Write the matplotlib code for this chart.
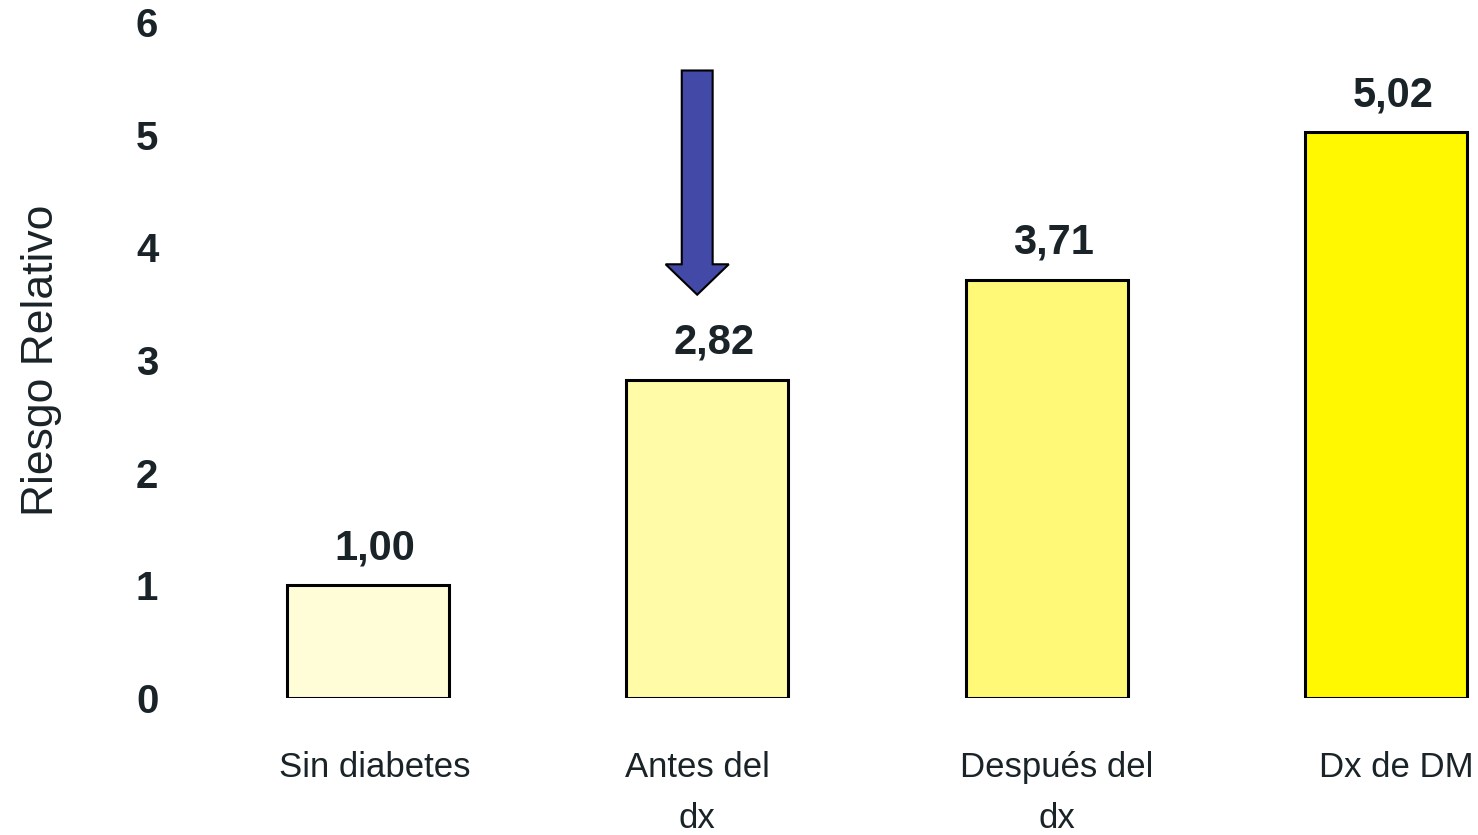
import matplotlib
matplotlib.use("Agg")
import matplotlib.pyplot as plt
from matplotlib.patches import FancyArrow
from matplotlib.transforms import ScaledTranslation

categories = ["Sin diabetes", "Antes del\ndx", "Después del\ndx", "Dx de DM"]
riesgo = [1.00, 2.82, 3.71, 5.02]
value_labels = ["1,00", "2,82", "3,71", "5,02"]
yticks = [0, 1, 2, 3, 4, 5, 6]
colors = ["#FFFDD8", "#FFFBA6", "#FFF977", "#FFF800"]

main_font = ["Liberation Sans", "DejaVu Sans"]
text_color = "#1A2428"

fig = plt.figure(figsize=(14.78, 8.35), dpi=100)
ax = fig.add_axes([0.1184, 0.164, 0.8771, 0.8096])

x = list(range(len(categories)))
ax.bar(x, riesgo, width=0.477, color=colors, edgecolor="black", linewidth=2.2, zorder=2)

for xi, v, lab in zip(x, riesgo, value_labels):
    ax.annotate(lab, (xi + 0.02, v), xytext=(0, 19), textcoords="offset points",
                ha="center", va="baseline", fontsize=30, fontweight="bold",
                family=main_font, color=text_color)

# Downward arrow pointing at the second bar
ax.add_patch(FancyArrow(0.97, 5.57, 0, -1.99, width=0.091, head_width=0.186,
                        head_length=0.27, length_includes_head=True,
                        facecolor="#4349A6", edgecolor="black", linewidth=1.5, zorder=3))

ax.set_xlim(-0.568, 3.25)
ax.set_ylim(0, 6)
ax.set_yticks(yticks)
ax.set_yticklabels([str(t) for t in yticks], fontsize=29, fontweight="bold",
                   family=main_font, color=text_color)
shift = ScaledTranslation(0, -4 / 100, fig.dpi_scale_trans)
for lbl in ax.get_yticklabels():
    lbl.set_transform(lbl.get_transform() + shift)
ax.set_xticks([0.02, 0.97, 2.03, 3.03])
ax.set_xticklabels(categories, fontsize=25, family=main_font, color=text_color,
                   linespacing=1.7)
ax.tick_params(axis="y", length=0, pad=12)
ax.tick_params(axis="x", length=0, pad=38)
for s in ax.spines.values():
    s.set_visible(False)

ax.set_ylabel("Riesgo Relativo", fontsize=32, family=main_font, color=text_color)
ax.yaxis.set_label_coords(-0.0872, 0.5)

fig.savefig("out.png", dpi=100, facecolor="white")
